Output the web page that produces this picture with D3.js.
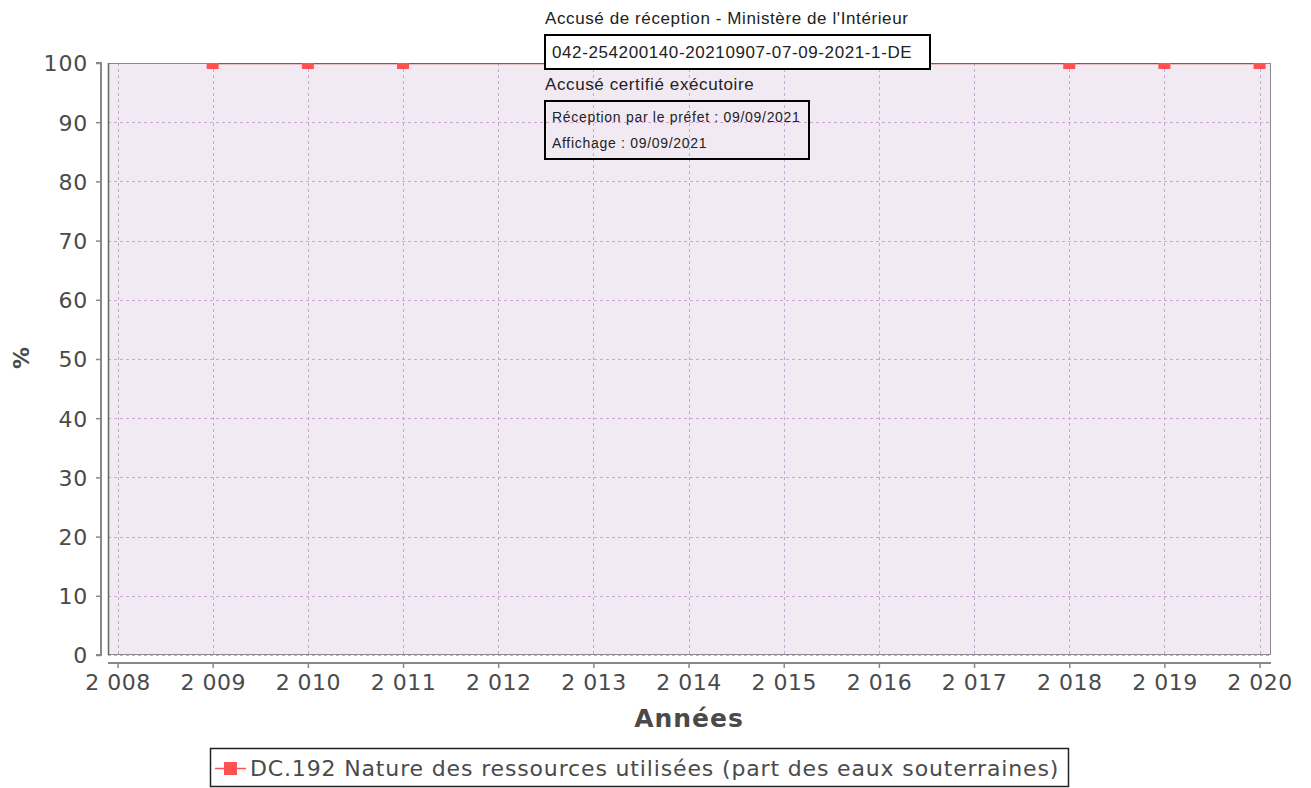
<!DOCTYPE html>
<html>
<head>
<meta charset="utf-8">
<script src="https://cdn.jsdelivr.net/npm/d3@7"></script>
<style>
  html, body { margin: 0; padding: 0; background: #ffffff; }
  svg { display: block; }
</style>
</head>
<body>
<svg id="chart" width="1311" height="788"></svg>
<script>
// Year axis ticks and y ticks
const years = [2008, 2009, 2010, 2011, 2012, 2013, 2014, 2015, 2016, 2017, 2018, 2019, 2020];
const yTicks = [0, 10, 20, 30, 40, 50, 60, 70, 80, 90, 100];

// Series: share of groundwater in the resources used (%)
const seriesYears = [2009, 2010, 2011, 2018, 2019, 2020];
const seriesValues = [100, 100, 100, 100, 100, 100];
const seriesName = "DC.192 Nature des ressources utilisées (part des eaux souterraines)";

// Stamp text block
const stampTitle = "Accusé de réception - Ministère de l'Intérieur";
const stampId = "042-254200140-20210907-07-09-2021-1-DE";
const stampSubtitle = "Accusé certifié exécutoire";
const stampLines = ["Réception par le préfet : 09/09/2021", "Affichage : 09/09/2021"];

const svg = d3.select("#chart");
const plot = { left: 108, right: 1271, top: 63, bottom: 655 };

const x = d3.scaleLinear().domain([2007.9, 2020.12]).range([plot.left, plot.right]);
const y = d3.scaleLinear().domain([0, 100]).range([plot.bottom, plot.top]);

const font = "'DejaVu Sans', sans-serif";
const textGrey = "#4a4a4a";

// Plot background
svg.append("rect")
  .attr("x", plot.left).attr("y", plot.top)
  .attr("width", plot.right - plot.left).attr("height", plot.bottom - plot.top)
  .attr("fill", "#f2eaf3");

// Gridlines
const grid = svg.append("g").attr("stroke", "#cda5d5").attr("stroke-width", 1)
  .attr("stroke-dasharray", "3,3").attr("fill", "none");
grid.selectAll("line.v").data(years).join("line")
  .attr("x1", d => Math.round(x(d)) + 0.5).attr("x2", d => Math.round(x(d)) + 0.5)
  .attr("y1", plot.top).attr("y2", plot.bottom);
grid.selectAll("line.h").data(yTicks).join("line")
  .attr("x1", plot.left).attr("x2", plot.right)
  .attr("y1", d => Math.round(y(d)) + 0.5).attr("y2", d => Math.round(y(d)) + 0.5);

// Plot outline
svg.append("rect")
  .attr("x", plot.left + 0.5).attr("y", plot.top + 0.5)
  .attr("width", plot.right - plot.left - 1).attr("height", plot.bottom - plot.top - 1)
  .attr("fill", "none").attr("stroke", "#8a8a8a").attr("stroke-width", 1);
svg.append("line")
  .attr("x1", plot.left + 0.5).attr("x2", plot.left + 0.5)
  .attr("y1", plot.top).attr("y2", plot.bottom)
  .attr("stroke", "#666").attr("stroke-width", 1.5);

// Y axis (offset from plot)
const yAxis = d3.axisLeft(y).tickValues(yTicks).tickSize(5).tickPadding(8);
const gy = svg.append("g").attr("transform", "translate(101,0)").call(yAxis);
gy.select(".domain").attr("stroke", "#888").attr("stroke-width", 2).attr("d", `M-5,${plot.top}H0V${plot.bottom}H-5`);
gy.selectAll(".tick line").attr("stroke", "#888").attr("stroke-width", 1.5);
gy.selectAll(".tick text").attr("fill", textGrey).attr("font-family", font).attr("font-size", 22)
  .attr("letter-spacing", 0.8).attr("dy", "0.36em");

// X axis (offset from plot)
const xAxis = d3.axisBottom(x).tickValues(years).tickSize(5).tickPadding(6)
  .tickFormat(d => String(d).slice(0, 1) + " " + String(d).slice(1));
const gx = svg.append("g").attr("transform", "translate(0,663)").call(xAxis);
gx.select(".domain").attr("stroke", "#888").attr("stroke-width", 2).attr("d", `M${plot.left},0H${plot.right}`);
gx.selectAll(".tick line").attr("stroke", "#888").attr("stroke-width", 1.5);
gx.selectAll(".tick text").attr("fill", textGrey).attr("font-family", font).attr("font-size", 22)
  .attr("letter-spacing", 0.5).attr("dy", "0.71em");

// Axis titles
svg.append("text").attr("x", 689).attr("y", 727).attr("text-anchor", "middle")
  .attr("font-family", font).attr("font-weight", "bold").attr("font-size", 25).attr("fill", textGrey)
  .attr("letter-spacing", 1).text("Années");
svg.append("text").attr("transform", "translate(29,358) rotate(-90)").attr("text-anchor", "middle")
  .attr("font-family", font).attr("font-weight", "bold").attr("font-size", 22).attr("fill", textGrey)
  .text("%");

// Series line and markers, clipped to the plot area
svg.append("clipPath").attr("id", "plotClip").append("rect")
  .attr("x", plot.left).attr("y", plot.top)
  .attr("width", plot.right - plot.left).attr("height", plot.bottom - plot.top);
const series = svg.append("g").attr("clip-path", "url(#plotClip)");
const pts = seriesYears.map((yr, i) => ({ yr, v: seriesValues[i] }));
series.append("path").datum(pts)
  .attr("d", d3.line().x(d => x(d.yr)).y(d => y(d.v) + 0.5))
  .attr("fill", "none").attr("stroke", "#b5443f").attr("stroke-width", 1.5);
series.selectAll("rect.m").data(pts).join("rect")
  .attr("x", d => x(d.yr) - 6).attr("y", d => y(d.v) - 6)
  .attr("width", 12).attr("height", 12).attr("fill", "#ff5152");

// Legend
const lg = svg.append("g");
lg.append("rect").attr("x", 210.5).attr("y", 748.5).attr("width", 858).attr("height", 38)
  .attr("fill", "#fff").attr("stroke", "#222").attr("stroke-width", 1.5);
lg.append("line").attr("x1", 215).attr("x2", 246).attr("y1", 768.5).attr("y2", 768.5)
  .attr("stroke", "#ff5152").attr("stroke-width", 1.5);
lg.append("rect").attr("x", 224).attr("y", 762).attr("width", 13).attr("height", 13).attr("fill", "#ff5152");
lg.append("text").attr("x", 250).attr("y", 776).attr("font-family", font).attr("font-size", 22)
  .attr("letter-spacing", 0.85).attr("fill", textGrey).text(seriesName);

// Stamp block
const sf = "'Liberation Sans', Arial, sans-serif";
svg.append("text").attr("x", 545).attr("y", 24).attr("font-family", sf).attr("font-size", 17)
  .attr("letter-spacing", 0.6).attr("fill", "#222").text(stampTitle);
svg.append("rect").attr("x", 545).attr("y", 35).attr("width", 385).attr("height", 34)
  .attr("fill", "#fff").attr("stroke", "#000").attr("stroke-width", 2);
svg.append("text").attr("x", 552).attr("y", 58).attr("font-family", sf).attr("font-size", 17)
  .attr("letter-spacing", 0.6).attr("fill", "#222").text(stampId);
svg.append("text").attr("x", 545).attr("y", 90).attr("font-family", sf).attr("font-size", 17)
  .attr("letter-spacing", 0.6).attr("fill", "#222").text(stampSubtitle);
svg.append("rect").attr("x", 545).attr("y", 101).attr("width", 264).attr("height", 58)
  .attr("fill", "none").attr("stroke", "#000").attr("stroke-width", 2);
svg.selectAll("text.st").data(stampLines).join("text")
  .attr("x", 552).attr("y", (d, i) => 122 + i * 26)
  .attr("font-family", sf).attr("font-size", 14).attr("letter-spacing", 0.7)
  .attr("fill", "#222").text(d => d);
</script>
</body>
</html>
